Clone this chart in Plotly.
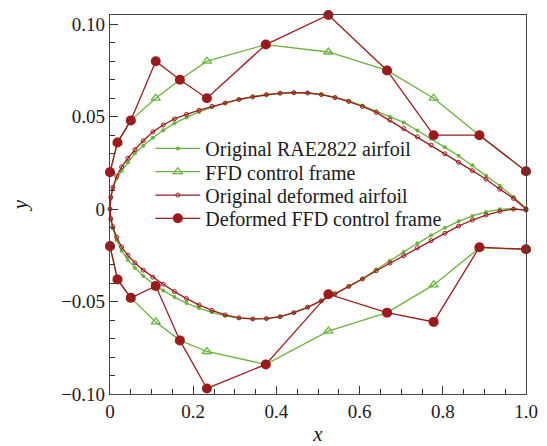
import plotly.graph_objects as go

# ---- airfoil surface stations (chordwise x) ----
x_surface = [0, 0.002, 0.007, 0.016, 0.028, 0.043, 0.06, 0.08, 0.103, 0.128, 0.155, 0.184,
             0.214, 0.245, 0.277, 0.31, 0.343, 0.376, 0.409, 0.442, 0.475, 0.508, 0.541,
             0.574, 0.607, 0.64, 0.673, 0.706, 0.739, 0.772, 0.805, 0.838, 0.871, 0.904,
             0.937, 0.970, 1.0]

# Original RAE2822 airfoil
y_upper_orig = [0, 0.0060, 0.0112, 0.0165, 0.0208, 0.0252, 0.0302, 0.0343, 0.0386, 0.0427,
                0.0464, 0.0496, 0.0526, 0.0551, 0.0574, 0.0594, 0.0609, 0.0620, 0.0627,
                0.0630, 0.0629, 0.0621, 0.0606, 0.0586, 0.0560, 0.0530, 0.0500, 0.0469,
                0.0425, 0.0381, 0.0334, 0.0289, 0.0237, 0.0181, 0.0127, 0.0066, 0.0005]
y_lower_orig = [0, -0.0058, -0.0105, -0.0168, -0.0225, -0.0275, -0.0318, -0.0362, -0.0402,
                -0.0440, -0.0476, -0.0508, -0.0535, -0.0558, -0.0577, -0.0589, -0.0594,
                -0.0592, -0.0582, -0.0560, -0.0531, -0.0496, -0.0458, -0.0418, -0.0375,
                -0.0326, -0.0279, -0.0232, -0.0185, -0.0141, -0.0101, -0.0066, -0.0037,
                -0.0015, -0.0001, 0.0003, -0.0005]

# Original deformed airfoil
y_upper_def = [0, 0.0065, 0.0118, 0.0178, 0.0228, 0.0275, 0.0322, 0.0370, 0.0418, 0.0455,
               0.0488, 0.0513, 0.0535, 0.0556, 0.0574, 0.0593, 0.0607, 0.0619, 0.0627,
               0.0630, 0.0628, 0.0619, 0.0603, 0.0582, 0.0555, 0.0523, 0.0481, 0.0436,
               0.0391, 0.0346, 0.0299, 0.0253, 0.0208, 0.0162, 0.0108, 0.0058, 0.0]
y_lower_def = [0, -0.0052, -0.0095, -0.0152, -0.0205, -0.0250, -0.0291, -0.0330, -0.0368,
               -0.0406, -0.0446, -0.0484, -0.0518, -0.0548, -0.0572, -0.0588, -0.0594,
               -0.0592, -0.0582, -0.0560, -0.0531, -0.0496, -0.0458, -0.0418, -0.0378,
               -0.0333, -0.0292, -0.0252, -0.0209, -0.0170, -0.0131, -0.0092, -0.0059,
               -0.0032, -0.0012, 0.0000, -0.0005]

# ---- FFD control frame ----
x_frame = [0, 0.018, 0.05, 0.11, 0.168, 0.233, 0.3745, 0.525, 0.666, 0.778, 0.888, 1.0]
y_frame_upper_orig = [0.020, 0.036, 0.048, 0.060, 0.070, 0.080, 0.089, 0.085, 0.075, 0.060, 0.040, 0.0205]
y_frame_lower_orig = [-0.020, -0.038, -0.048, -0.061, -0.071, -0.077, -0.084, -0.066, -0.056, -0.041, -0.021, -0.0217]
y_frame_upper_def = [0.020, 0.036, 0.048, 0.080, 0.070, 0.060, 0.089, 0.105, 0.075, 0.040, 0.040, 0.0205]
y_frame_lower_def = [-0.020, -0.038, -0.048, -0.0416, -0.071, -0.097, -0.084, -0.046, -0.056, -0.061, -0.0206, -0.0217]

x_ticks = [0, 0.2, 0.4, 0.6, 0.8, 1.0]
x_tick_labels = ["0", "0.2", "0.4", "0.6", "0.8", "1.0"]
y_ticks = [-0.10, -0.05, 0, 0.05, 0.10]
y_tick_labels = ["\u22120.10", "\u22120.05", "0", "0.05", "0.10"]

GREEN = "#6cb23c"
RED = "#9b1b1d"
FONT = "Liberation Serif"
TXT = "#1a1a1a"


def closed(xs, yu, yl):
    xx = list(reversed(xs)) + xs[1:]
    yy = list(reversed(yu)) + yl[1:]
    return xx, yy


def frame(xs, yu, yl):
    return xs + [None] + xs, yu + [None] + yl


fig = go.Figure()

ax, ay = closed(x_surface, y_upper_orig, y_lower_orig)
fig.add_trace(go.Scatter(x=ax, y=ay, mode="lines+markers", name="Original RAE2822 airfoil",
                         line=dict(color=GREEN, width=1.3),
                         marker=dict(symbol="circle", size=4, color=GREEN),
                         cliponaxis=False, legend="legend"))

fx, fy = frame(x_frame, y_frame_upper_orig, y_frame_lower_orig)
fig.add_trace(go.Scatter(x=fx, y=fy, mode="lines+markers", name="FFD control frame",
                         line=dict(color=GREEN, width=1.3),
                         marker=dict(symbol="triangle-up-open", size=8, color=GREEN,
                                     line=dict(width=1.3, color=GREEN)),
                         connectgaps=False, cliponaxis=False, legend="legend2"))

dx, dy = closed(x_surface, y_upper_def, y_lower_def)
fig.add_trace(go.Scatter(x=dx, y=dy, mode="lines+markers", name="Original deformed airfoil",
                         line=dict(color=RED, width=1.3),
                         marker=dict(symbol="circle-open", size=4, color=RED,
                                     line=dict(width=1, color=RED)),
                         cliponaxis=False, legend="legend3"))

gx, gy = frame(x_frame, y_frame_upper_def, y_frame_lower_def)
fig.add_trace(go.Scatter(x=gx, y=gy, mode="lines+markers", name="Deformed FFD control frame",
                         line=dict(color=RED, width=1.3),
                         marker=dict(symbol="circle", size=10, color=RED),
                         connectgaps=False, cliponaxis=False, legend="legend4"))


def leg(yc):
    return dict(x=0.097, y=yc, xanchor="left", yanchor="middle",
                bgcolor="rgba(0,0,0,0)", borderwidth=0, itemwidth=45,
                font=dict(family=FONT, size=20, color=TXT))


# the page body adds an 8 px offset, so the figure is 8 px smaller on each axis
fig.update_layout(
    width=539, height=438,
    margin=dict(l=102, r=21, t=7, b=52),
    paper_bgcolor="white", plot_bgcolor="white",
    font=dict(family=FONT, size=19, color=TXT),
    showlegend=True,
    legend=leg(0.648), legend2=leg(0.5865), legend3=leg(0.525), legend4=leg(0.4636),
    xaxis=dict(range=[0, 1], tickvals=x_ticks, ticktext=x_tick_labels,
               ticks="inside", ticklen=8, tickwidth=1, tickcolor="#333",
               minor=dict(dtick=0.05, tick0=0, ticks="inside", ticklen=5, tickcolor="#333"),
               showline=True, linecolor="#444", linewidth=1.2, mirror=True,
               showgrid=False, zeroline=False, automargin=False,
               tickfont=dict(family=FONT, size=19, color=TXT),
               title=dict(text="<i>x</i>", font=dict(family=FONT, size=21, color=TXT),
                          standoff=23)),
    yaxis=dict(range=[-0.1, 0.105], tickvals=y_ticks, ticktext=y_tick_labels,
               ticks="inside", ticklen=8, tickwidth=1, tickcolor="#333",
               minor=dict(dtick=0.01, tick0=0, ticks="inside", ticklen=5, tickcolor="#333"),
               showline=True, linecolor="#444", linewidth=1.2, mirror=True,
               showgrid=False, zeroline=False, automargin=False,
               tickfont=dict(family=FONT, size=19, color=TXT),
               title=dict(text="<i>y</i>", font=dict(family=FONT, size=21, color=TXT),
                          standoff=34)),
)

fig.write_html("out.html")
